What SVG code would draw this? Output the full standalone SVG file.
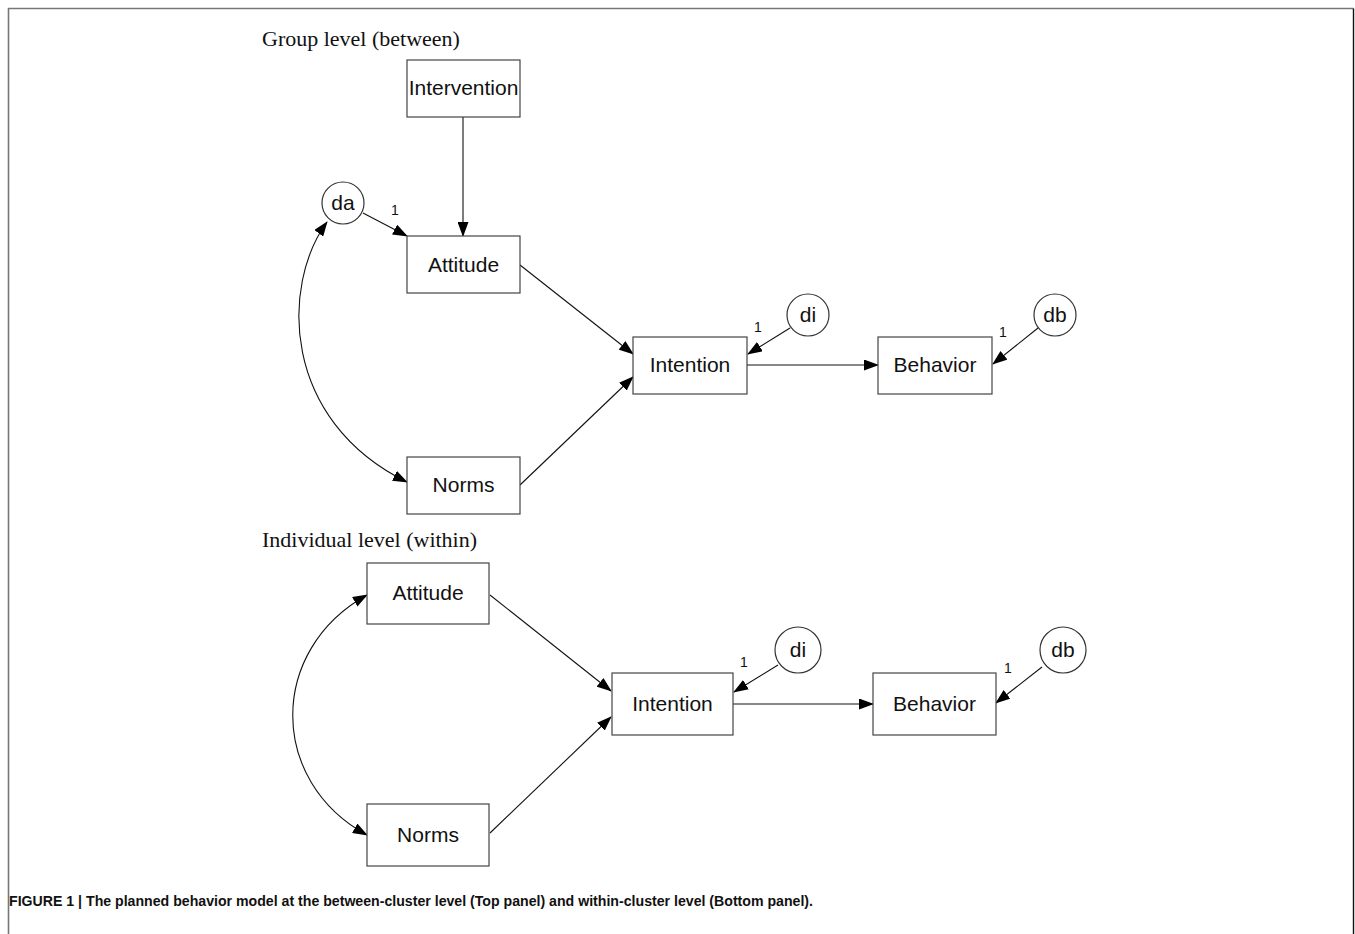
<svg xmlns="http://www.w3.org/2000/svg" width="1355" height="934" viewBox="0 0 1355 934">
<style>
.box{fill:#fff;stroke:#444;stroke-width:1.2}
.circ{fill:#fff;stroke:#333;stroke-width:1.2}
.lbl{font-family:"Liberation Sans",Arial,sans-serif;font-size:21px;fill:#111;text-anchor:middle}
.one{font-family:"Liberation Sans",Arial,sans-serif;font-size:14px;fill:#111;text-anchor:middle}
.title{font-family:"Liberation Serif","Times New Roman",serif;font-size:22px;fill:#111}
.cap{font-family:"Liberation Sans Narrow","Liberation Sans",Arial,sans-serif;font-size:14px;font-weight:bold;fill:#111}
.edge{fill:none;stroke:#111;stroke-width:1.1}
</style>
<defs>
<marker id="ah" markerUnits="userSpaceOnUse" markerWidth="15" markerHeight="11" refX="14" refY="5.5" orient="auto-start-reverse" viewBox="0 0 15 11">
<path d="M0,0 L15,5.5 L0,11 Z" fill="#000"/>
</marker>
</defs>
<rect width="1355" height="934" fill="#fff"/>
<g id="frame">
<path d="M8.5,934 L8.5,8.5 L1353.5,8.5" fill="none" stroke="#777" stroke-width="1.6"/>
<path d="M1353.5,8.5 L1353.5,934" fill="none" stroke="#111" stroke-width="1.4"/>
</g>
<text class="title" x="262" y="46">Group level (between)</text>
<text class="title" x="262" y="547">Individual level (within)</text>
<g id="connectors">
<line class="edge" x1="463" y1="117" x2="463" y2="236" marker-end="url(#ah)"/>
<line class="edge" x1="363" y1="213" x2="407" y2="236" marker-end="url(#ah)"/>
<line class="edge" x1="520" y1="265" x2="633" y2="354" marker-end="url(#ah)"/>
<line class="edge" x1="520" y1="485" x2="633" y2="377" marker-end="url(#ah)"/>
<line class="edge" x1="747" y1="365" x2="878" y2="365" marker-end="url(#ah)"/>
<line class="edge" x1="790" y1="328" x2="748" y2="354" marker-end="url(#ah)"/>
<line class="edge" x1="1038" y1="328" x2="993" y2="364" marker-end="url(#ah)"/>
<path class="edge" d="M327,222 C281,285 281,420 407,482" marker-start="url(#ah)" marker-end="url(#ah)"/>
<line class="edge" x1="490" y1="595" x2="611" y2="691" marker-end="url(#ah)"/>
<line class="edge" x1="490" y1="833" x2="611" y2="717" marker-end="url(#ah)"/>
<line class="edge" x1="733" y1="704" x2="873" y2="704" marker-end="url(#ah)"/>
<line class="edge" x1="778" y1="665" x2="734" y2="692" marker-end="url(#ah)"/>
<line class="edge" x1="1042" y1="667" x2="996" y2="703" marker-end="url(#ah)"/>
<path class="edge" d="M367,595 C268,650 268,781 367,835" marker-start="url(#ah)" marker-end="url(#ah)"/>
</g>
<g id="top-intervention"><rect class="box" x="407" y="60" width="113" height="57"/><text class="lbl" x="463.5" y="95">Intervention</text></g>
<g id="top-attitude"><rect class="box" x="407" y="236" width="113" height="57"/><text class="lbl" x="463.5" y="272">Attitude</text></g>
<g id="top-norms"><rect class="box" x="407" y="457" width="113" height="57"/><text class="lbl" x="463.5" y="492">Norms</text></g>
<g id="top-intention"><rect class="box" x="633" y="337" width="114" height="57"/><text class="lbl" x="690" y="372">Intention</text></g>
<g id="top-behavior"><rect class="box" x="878" y="337" width="114" height="57"/><text class="lbl" x="935" y="372">Behavior</text></g>
<g id="top-da"><circle class="circ" cx="343" cy="203" r="21"/><text class="lbl" x="343" y="210">da</text></g>
<g id="top-di"><circle class="circ" cx="808" cy="315" r="21"/><text class="lbl" x="808" y="322">di</text></g>
<g id="top-db"><circle class="circ" cx="1055" cy="315" r="21"/><text class="lbl" x="1055" y="322">db</text></g>
<g id="top-weights">
<text class="one" x="395" y="215">1</text>
<text class="one" x="758" y="332">1</text>
<text class="one" x="1003" y="337">1</text>
</g>
<g id="bot-attitude"><rect class="box" x="367" y="563" width="122" height="61"/><text class="lbl" x="428" y="600">Attitude</text></g>
<g id="bot-norms"><rect class="box" x="367" y="804" width="122" height="62"/><text class="lbl" x="428" y="842">Norms</text></g>
<g id="bot-intention"><rect class="box" x="612" y="673" width="121" height="62"/><text class="lbl" x="672.5" y="711">Intention</text></g>
<g id="bot-behavior"><rect class="box" x="873" y="673" width="123" height="62"/><text class="lbl" x="934.5" y="711">Behavior</text></g>
<g id="bot-di"><circle class="circ" cx="798" cy="650" r="23"/><text class="lbl" x="798" y="657">di</text></g>
<g id="bot-db"><circle class="circ" cx="1063" cy="650" r="23"/><text class="lbl" x="1063" y="657">db</text></g>
<g id="bot-weights">
<text class="one" x="744" y="667">1</text>
<text class="one" x="1008" y="673">1</text>
</g>
<text class="cap" x="9" y="906" textLength="804" lengthAdjust="spacingAndGlyphs">FIGURE 1 | The planned behavior model at the between-cluster level (Top panel) and within-cluster level (Bottom panel).</text>
</svg>
